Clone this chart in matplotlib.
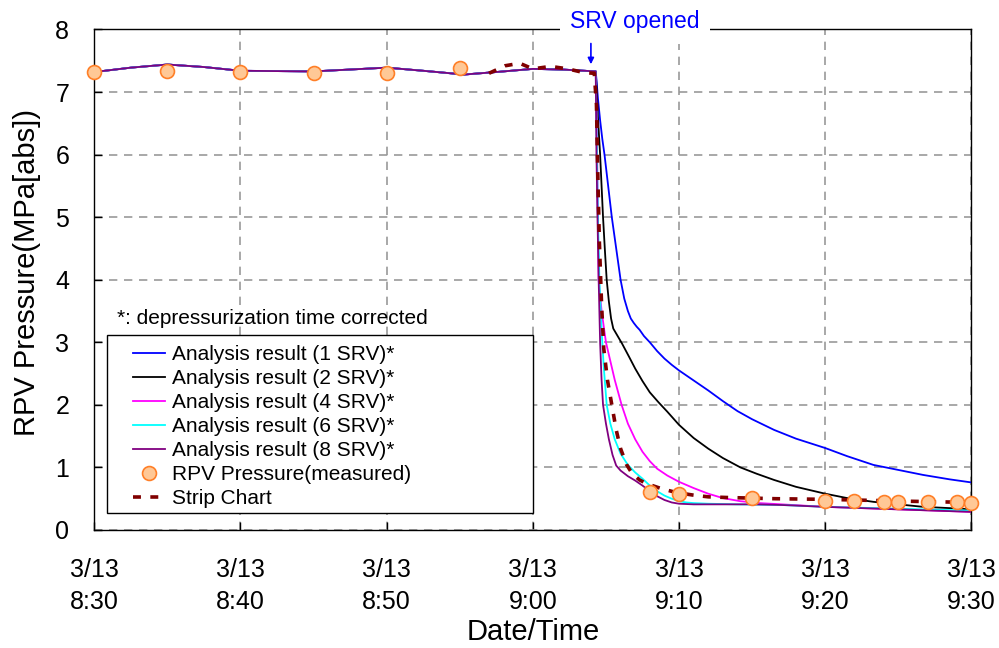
import matplotlib
matplotlib.use("Agg")
import matplotlib.pyplot as plt
from matplotlib.patches import Rectangle

plt.rcParams['font.family'] = ['Liberation Sans', 'DejaVu Sans']

# tiempo en minutos desde 3/13 8:30
tick_pos = [0, 10, 20, 30, 40, 50, 60]
tick_labels = ['3/13\n8:30', '3/13\n8:40', '3/13\n8:50', '3/13\n9:00',
               '3/13\n9:10', '3/13\n9:20', '3/13\n9:30']

# tramo comun antes de abrir la SRV
pre_t = [0, 2.5, 5, 7.5, 10, 15, 20, 22.5, 25.3, 27.5, 30, 32, 34.3]
pre_p = [7.32, 7.39, 7.44, 7.40, 7.34, 7.33, 7.39, 7.34, 7.28, 7.32, 7.37, 7.36, 7.33]

# 1 SRV
srv1_t = [34.35, 34.45, 34.6, 34.75, 34.9, 35.15, 35.4, 35.7, 36.0, 36.25, 36.5, 36.7, 36.9, 37.1, 37.3, 37.6,
          38.0, 38.5, 39.0, 39.5, 40.0, 41.0, 42.0, 43.0, 44.0, 45.0, 46.5, 48.0, 50.0, 51.5, 53.3, 55.0,
          56.7, 58.5, 60.0]
srv1_p = [7.20, 6.90, 6.55, 6.25, 6.00, 5.50, 5.00, 4.50, 4.00, 3.70, 3.50, 3.38, 3.31, 3.25, 3.20, 3.10,
          3.00, 2.86, 2.74, 2.64, 2.55, 2.39, 2.23, 2.06, 1.90, 1.77, 1.60, 1.46, 1.31, 1.18, 1.04, 0.96,
          0.88, 0.81, 0.76]
# 2 SRV
srv2_t = [34.35, 34.45, 34.6, 34.7, 34.8, 34.92, 35.05, 35.2, 35.35, 35.5, 35.8, 36.1, 36.6, 37.0, 37.5, 38.0,
          38.6, 39.2, 40.0, 41.0, 42.0, 43.0, 44.2, 45.3, 46.5, 48.0, 50.0, 51.5, 53.3, 55.0, 56.7, 58.5, 60.0]
srv2_p = [7.10, 6.60, 6.00, 5.50, 5.00, 4.50, 4.00, 3.65, 3.38, 3.22, 3.10, 2.98, 2.76, 2.58, 2.38, 2.20,
          2.04, 1.89, 1.68, 1.47, 1.30, 1.15, 1.00, 0.90, 0.80, 0.69, 0.58, 0.51, 0.45, 0.41, 0.37, 0.35, 0.33]
# 4 SRV
srv4_t = [34.35, 34.45, 34.5, 34.7, 35.0, 35.3, 35.6, 36.07, 36.5, 37.0, 37.5, 38.0, 38.5, 39.2, 40.0, 41.0,
          42.0, 43.0, 44.2, 45.5, 47.0, 50.0, 55.0, 60.0]
srv4_p = [6.80, 5.00, 4.00, 3.50, 3.00, 2.70, 2.40, 2.00, 1.70, 1.45, 1.25, 1.10, 0.98, 0.87, 0.77, 0.67,
          0.58, 0.51, 0.46, 0.43, 0.41, 0.37, 0.33, 0.29]
# 6 SRV
srv6_t = [34.35, 34.45, 34.55, 34.7, 34.85, 35.05, 35.3, 35.6, 36.0, 36.5, 37.0, 37.5, 38.0, 38.5, 39.0, 39.5,
          40.0, 40.5, 41.0, 42.0, 44.0, 47.0, 50.0, 55.0, 60.0]
srv6_p = [6.50, 5.00, 4.00, 3.20, 2.60, 2.00, 1.70, 1.45, 1.22, 1.04, 0.92, 0.82, 0.71, 0.62, 0.55, 0.50,
          0.46, 0.44, 0.43, 0.42, 0.41, 0.40, 0.37, 0.34, 0.31]
# 8 SRV
srv8_t = [34.35, 34.42, 34.5, 34.6, 34.7, 34.8, 35.0, 35.2, 35.45, 35.7, 36.0, 36.5, 37.0, 37.5, 38.0, 38.5,
          39.0, 39.5, 40.0, 41.0, 45.0, 47.0, 50.0, 55.0, 60.0]
srv8_p = [6.00, 5.00, 4.00, 3.00, 2.40, 2.00, 1.70, 1.45, 1.20, 1.03, 0.95, 0.86, 0.79, 0.71, 0.62, 0.54,
          0.48, 0.44, 0.42, 0.41, 0.41, 0.40, 0.37, 0.33, 0.29]

# registro en papel (strip chart)
strip_t = [27.0, 28.1, 29.1, 30.0, 31.2, 32.4, 33.5, 34.2, 34.35, 34.45, 34.55, 34.7, 34.85, 35.1, 35.4, 35.7,
           36.0, 36.4, 36.8, 37.3, 37.8, 38.8, 39.8, 40.9, 42.0, 43.2, 46.6, 50.0, 55.6, 60.0]
strip_p = [7.30, 7.42, 7.46, 7.37, 7.41, 7.37, 7.31, 7.30, 6.80, 5.60, 4.60, 3.60, 2.90, 2.40, 2.00, 1.60,
           1.30, 1.05, 0.90, 0.80, 0.74, 0.66, 0.60, 0.56, 0.53, 0.52, 0.50, 0.49, 0.46, 0.44]

# presion medida
meas_t = [0, 5, 10, 15, 20, 25, 38, 40, 45, 50, 52, 54, 55, 57, 59, 60]
meas_p = [7.32, 7.34, 7.32, 7.31, 7.30, 7.39, 0.60, 0.58, 0.51, 0.47, 0.47, 0.45, 0.45, 0.44, 0.44, 0.43]

fig = plt.figure(figsize=(9.99, 6.48), dpi=100)
ax = fig.add_axes([0.0944, 0.1821, 0.878, 0.7724])

series = [
    (srv1_t, srv1_p, '#0000FF', 'Analysis result (1 SRV)*'),
    (srv2_t, srv2_p, '#000000', 'Analysis result (2 SRV)*'),
    (srv4_t, srv4_p, '#FF00FF', 'Analysis result (4 SRV)*'),
    (srv6_t, srv6_p, '#00FFFF', 'Analysis result (6 SRV)*'),
    (srv8_t, srv8_p, '#800080', 'Analysis result (8 SRV)*'),
]
handles = []
for t, p, c, lab in series:
    h, = ax.plot(pre_t + t, pre_p + p, color=c, lw=1.3, label=lab, zorder=3)
    handles.append(h)

h_strip, = ax.plot(strip_t, strip_p, color='#800000', lw=2.6, linestyle=(0, (2.2, 2.6)),
                   label='Strip Chart', zorder=4)
h_meas, = ax.plot(meas_t, meas_p, linestyle='none', marker='o', markersize=10,
                  markerfacecolor='#FFC896', markeredgecolor='#FF7F27', markeredgewidth=1.2,
                  label='RPV Pressure(measured)', zorder=5, clip_on=False)
handles += [h_meas, h_strip]

ax.set_xlim(0, 60)
ax.set_ylim(0, 8)
ax.set_xticks(tick_pos)
ax.set_xticklabels(tick_labels, linespacing=1.45)
ax.set_yticks(range(0, 9))
ax.tick_params(direction='in', length=6, width=1, labelsize=18)
ax.tick_params(axis='y', pad=18)
ax.tick_params(axis='x', pad=20)
ax.grid(True, color='#999999', linestyle=(0, (5, 4)), lw=1.2)
ax.set_axisbelow(True)
for s in ax.spines.values():
    s.set_color('black')
    s.set_linewidth(1)

fig.text(27 / 999, 1 - 272 / 648, 'RPV Pressure(MPa[abs])', rotation=90,
         ha='center', va='center', fontsize=21)
fig.text(533 / 999, 0.003, 'Date/Time', ha='center', va='bottom', fontsize=21)

# SRV abierta
ax.text(37.0, 1.0024, 'SRV opened', transform=ax.get_xaxis_transform(), color='#0000FF',
        fontsize=16.5, ha='center', va='baseline', zorder=10, clip_on=False,
        bbox=dict(boxstyle='square,pad=0.45', fc='white', ec='none'))
ax.annotate('', xy=(33.97, 7.40), xytext=(33.97, 7.82),
            arrowprops=dict(arrowstyle='-|>', color='#0000FF', lw=1.2, mutation_scale=9),
            zorder=11, annotation_clip=False)

# leyenda con recuadro propio
ax.add_patch(Rectangle((0.0145, 0.034), 0.4855, 0.356, transform=ax.transAxes,
                       facecolor='white', edgecolor='black', lw=1, zorder=6))
ax.text(0.026, 0.422, '*: depressurization time corrected', transform=ax.transAxes,
        fontsize=15, ha='left', va='center', zorder=7)
leg = ax.legend(handles=handles, loc='upper left', bbox_to_anchor=(0.044, 0.370),
                frameon=False, fontsize=15, borderpad=0, borderaxespad=0,
                handlelength=1.55, handletextpad=0.35, labelspacing=0.24, numpoints=1)
leg.set_zorder(8)

fig.savefig('out.png', dpi=100)
